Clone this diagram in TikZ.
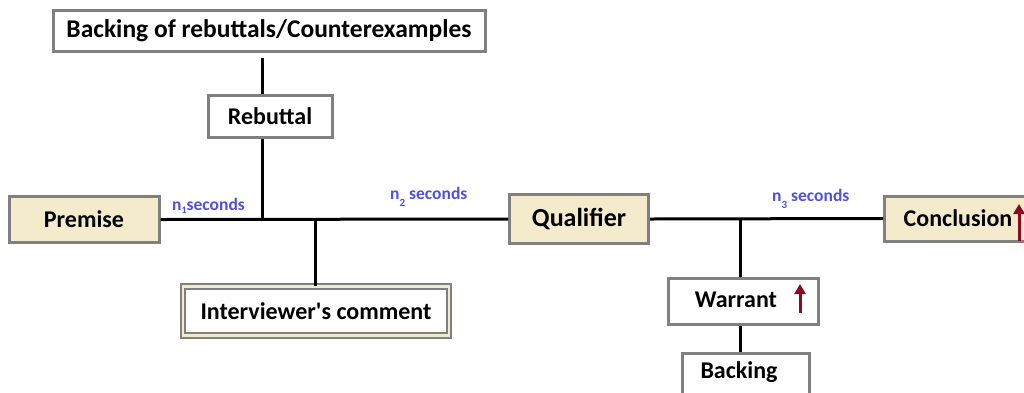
\documentclass[tikz,border=0pt]{standalone}
\usepackage{fontspec}
\setmainfont{Carlito}
\usetikzlibrary{arrows.meta}
\definecolor{boxgray}{HTML}{808080}
\definecolor{beige}{HTML}{F3EBCB}
\definecolor{lblblue}{HTML}{4F4FE0}
\definecolor{darkred}{HTML}{8B0A1E}
\newcommand{\straightapos}{\XeTeXglyph\XeTeXcharglyph"0027\relax}
\tikzset{
  box/.style={draw=boxgray, line width=3pt, fill=white, inner sep=0pt, font=\bfseries\fontsize{24}{28}\selectfont, text=black},
  bbox/.style={box, fill=beige},
  txt/.style={font=\bfseries\fontsize{24}{28}\selectfont, inner sep=0pt, text=black},
  conn/.style={draw=black, line width=3pt},
  lbl/.style={text=lblblue, font=\bfseries\fontsize{17.5}{20}\selectfont, inner sep=0pt, anchor=base west},
  uparrow/.style={draw=darkred, line width=3pt, -{Triangle[length=10pt,width=11pt]}}
}
\begin{document}
\begin{tikzpicture}[x=1pt,y=-1pt]
\useasboundingbox (0,0) rectangle (1024,392);
\clip (0,0) rectangle (1024,392);
% nodes
\node[box, minimum width=432pt, minimum height=41pt] (brc) at (269,31) {\fontsize{25.5}{30}\selectfont Backing of rebuttals/Counterexamples};
\node[box, minimum width=124pt, minimum height=42pt] (reb) at (270,116.5) {Rebuttal};
\node[bbox, minimum width=150pt, minimum height=46pt] (prem) at (84,219.5) {Premise};
\node[bbox, minimum width=139pt, minimum height=49pt] (qual) at (579,219) {\fontsize{26}{30}\selectfont Qualifier};
\node[bbox, minimum width=160pt, minimum height=45pt, anchor=west] (conc) at (883,218.5) {};
\node[txt] (conct) at (958,218) {Conclusion};
\node[draw=boxgray, line width=2pt, double=beige, double distance=2.6pt, fill=white, inner sep=0pt,
      font=\bfseries\fontsize{24}{28}\selectfont, minimum width=266pt, minimum height=49pt] (intc) at (316,311) {Interviewer\straightapos s comment};
\node[box, minimum width=150pt, minimum height=46pt] (warr) at (743,301.5) {};
\node[txt] (warrt) at (736,300) {Warrant};
\node[box, minimum width=127pt, minimum height=60pt] (back) at (746,383) {};
\node[txt] (backt) at (739,372) {Backing};
% junctions
\coordinate (j1) at (262,220);
\coordinate (j2) at (315,220);
\coordinate (j3) at (740,220);
% connectors
\draw[conn] (prem.east) -- (qual.west);
\draw[conn] (qual.east) -- (conc.west);
\draw[conn] (brc.south -| j1) ++(0,5) -- (reb.north -| j1);
\draw[conn] (reb.south -| j1) -- (j1);
\draw[conn] (j2) -- (intc.north -| j2);
\draw[conn] (j3) -- (warr.north -| j3);
\draw[conn] (warr.south -| j3) -- (back.north -| j3);
% labels
\node[lbl] (l1) at (172,210) {n\raisebox{-3pt}{\fontsize{10}{11}\selectfont 1}seconds};
\node[lbl] (l2) at (390,199) {n\raisebox{-7pt}{\fontsize{11}{12}\selectfont 2}\hspace{4pt}seconds};
\node[lbl] (l3) at (772,201) {n\raisebox{-7pt}{\fontsize{11}{12}\selectfont 3}\hspace{4pt}seconds};
% arrows
\draw[uparrow] (1019,241) -- (1019,204);
\draw[uparrow] (800,313) -- (800,284);
\end{tikzpicture}
\end{document}
